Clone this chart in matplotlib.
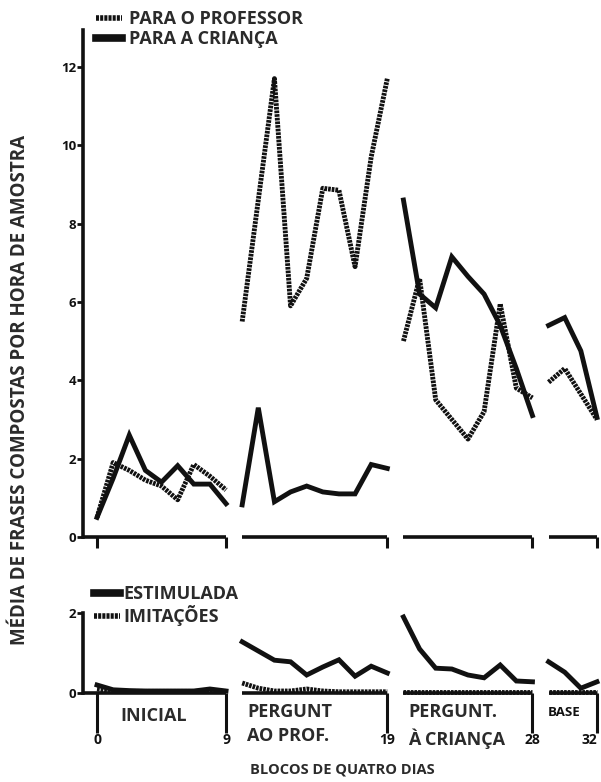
import numpy as np
import matplotlib.pyplot as plt
from matplotlib.lines import Line2D

# -------------------------------------------------------------------------
# Data
# -------------------------------------------------------------------------
blocks = np.arange(1, 33)
phase_bounds = [(1, 9), (10, 19), (20, 28), (29, 32)]
phase_names = ["INICIAL", "PERGUNT\nAO PROF.", "PERGUNT.\nÀ CRIANÇA", "BASE"]
tick_blocks = [1, 9, 19, 28, 32]
tick_labels = ["0", "9", "19", "28", "32"]

# top panel: compound sentences per hour
para_professor = [
    0.5, 1.9, 1.7, 1.45, 1.3, 0.95, 1.85, 1.55, 1.2,            # inicial
    5.5, 8.6, 11.7, 5.9, 6.6, 8.9, 8.85, 6.9, 9.7, 11.7,        # perg. ao prof.
    5.0, 6.6, 3.5, 3.0, 2.5, 3.2, 5.95, 3.8, 3.55,              # perg. à criança
    3.95, 4.3, 3.65, 3.0,                                        # base
]
para_crianca = [
    0.5, 1.5, 2.6, 1.7, 1.4, 1.82, 1.35, 1.35, 0.85,
    0.82, 3.3, 0.9, 1.15, 1.3, 1.15, 1.1, 1.1, 1.85, 1.75,
    8.6, 6.2, 5.85, 7.15, 6.65, 6.2, 5.4, 4.3, 3.1,
    5.4, 5.6, 4.75, 3.05,
]

# bottom panel
estimulada = [
    0.2, 0.08, 0.06, 0.05, 0.05, 0.05, 0.05, 0.1, 0.05,
    1.28, 1.05, 0.82, 0.78, 0.45, 0.65, 0.83, 0.42, 0.67, 0.5,
    1.9, 1.1, 0.62, 0.6, 0.45, 0.38, 0.7, 0.3, 0.28,
    0.78, 0.52, 0.12, 0.28,
]
imitacoes = [
    0.1, 0.05, 0.04, 0.04, 0.04, 0.04, 0.04, 0.05, 0.04,
    0.25, 0.12, 0.05, 0.05, 0.1, 0.05, 0.03, 0.03, 0.03, 0.03,
    0.02, 0.02, 0.02, 0.02, 0.02, 0.02, 0.02, 0.02, 0.02,
    0.02, 0.02, 0.02, 0.02,
]

# -------------------------------------------------------------------------
# Styling
# -------------------------------------------------------------------------
plt.rcParams['font.family'] = ['Open Sans', 'DejaVu Sans']
INK = '#111111'
TXT = '#2b2b2b'
LW = 3.5
DOT = (0, (0.55, 0.2))
FS = 13

W, H = 601, 782
fig = plt.figure(figsize=(W / 100, H / 100), dpi=100)

def px_box(x0, y0, x1, y1):
    return [x0 / W, 1 - y1 / H, (x1 - x0) / W, (y1 - y0) / H]

xlim = (0.13, 32.25)
ax_top = fig.add_axes(px_box(83, 30, 601, 537))
ax_bot = fig.add_axes(px_box(83, 613, 601, 693))


def draw_series(ax, y, style):
    for a, b in phase_bounds:
        sl = slice(a - 1, b)
        ax.plot(blocks[sl], np.array(y)[sl], color=INK, lw=LW,
                linestyle=style, solid_joinstyle='miter', clip_on=False)


def draw_baseline(ax):
    for i, (a, b) in enumerate(phase_bounds):
        start = xlim[0] if i == 0 else a
        ax.plot([start, b], [0, 0], color=INK, lw=2.6, clip_on=False,
                solid_capstyle='butt')


for ax in (ax_top, ax_bot):
    ax.set_xlim(*xlim)
    for s in ('top', 'right', 'bottom'):
        ax.spines[s].set_visible(False)
    ax.spines['left'].set_linewidth(2.6)
    ax.spines['left'].set_color(INK)
    ax.set_xticks(tick_blocks)
    ax.tick_params(axis='y', direction='out', length=4, width=2,
                   colors=INK, pad=1)
    draw_baseline(ax)

# top panel
ax_top.set_ylim(0, 12.94)
ax_top.set_yticks([0, 2, 4, 6, 8, 10, 12])
ax_top.set_yticklabels(['0', '2', '4', '6', '8', '10', '12'],
                       fontweight='bold', fontsize=9.5)
ax_top.tick_params(axis='x', direction='out', length=8, width=2.2,
                   colors=INK, labelbottom=False)
draw_series(ax_top, para_professor, DOT)
draw_series(ax_top, para_crianca, '-')

# bottom panel
ax_bot.set_ylim(0, 2)
ax_bot.set_yticks([0, 2])
ax_bot.set_yticklabels(['0', '2'], fontweight='bold', fontsize=9.5)
ax_bot.tick_params(axis='x', direction='out', length=29, width=2.2,
                   colors=INK, pad=0)
ax_bot.set_xticklabels(tick_labels, fontweight='bold', fontsize=10)
ax_bot.get_xticklabels()[-1].set_horizontalalignment('right')
draw_series(ax_bot, imitacoes, DOT)
draw_series(ax_bot, estimulada, '-')

# phase names under the bottom panel
for (a, b), name in zip(phase_bounds, phase_names):
    if name == "INICIAL":
        ax_bot.text((a + b) / 2 - 0.5, -0.58, name, ha='center', va='center',
                    fontsize=FS, color=TXT, fontweight='bold')
    elif name == "BASE":
        ax_bot.text(a - 0.05, -0.5, name, ha='left', va='center',
                    fontsize=9.5, color=INK, fontweight='bold')
    else:
        ax_bot.text(a + 0.3, -0.25, name, ha='left', va='top',
                    fontsize=FS, color=TXT, fontweight='bold',
                    linespacing=1.45)

# legends
leg_top = [Line2D([], [], color=INK, lw=4, linestyle=DOT),
           Line2D([], [], color=INK, lw=5.5)]
fig.legend(leg_top, ['PARA O PROFESSOR', 'PARA A CRIANÇA'],
           loc='upper left', bbox_to_anchor=(80 / W, 1 + 6 / H),
           frameon=False, handlelength=1.4, handletextpad=0.4,
           labelspacing=0.12, labelcolor=TXT,
           prop={'weight': 'bold', 'size': FS})

leg_bot = [Line2D([], [], color=INK, lw=5.5),
           Line2D([], [], color=INK, lw=4, linestyle=DOT)]
fig.legend(leg_bot, ['ESTIMULADA', 'IMITAÇÕES'],
           loc='upper left', bbox_to_anchor=(78 / W, 1 - 569 / H),
           frameon=False, handlelength=1.4, handletextpad=0.2,
           labelspacing=0.12, labelcolor=TXT,
           prop={'weight': 'bold', 'size': FS})

# axis titles
fig.text(20 / W, 1 - 390 / H, 'MÉDIA DE FRASES COMPOSTAS POR HORA DE AMOSTRA',
         rotation=90, ha='center', va='center', fontsize=13.5, color=TXT,
         fontweight='bold')
fig.text(342 / W, 1 - 770 / H, 'BLOCOS DE QUATRO DIAS', ha='center',
         va='center', fontsize=10.5, color=TXT, fontweight='bold')

fig.savefig('out.png', dpi=100, facecolor='white')
